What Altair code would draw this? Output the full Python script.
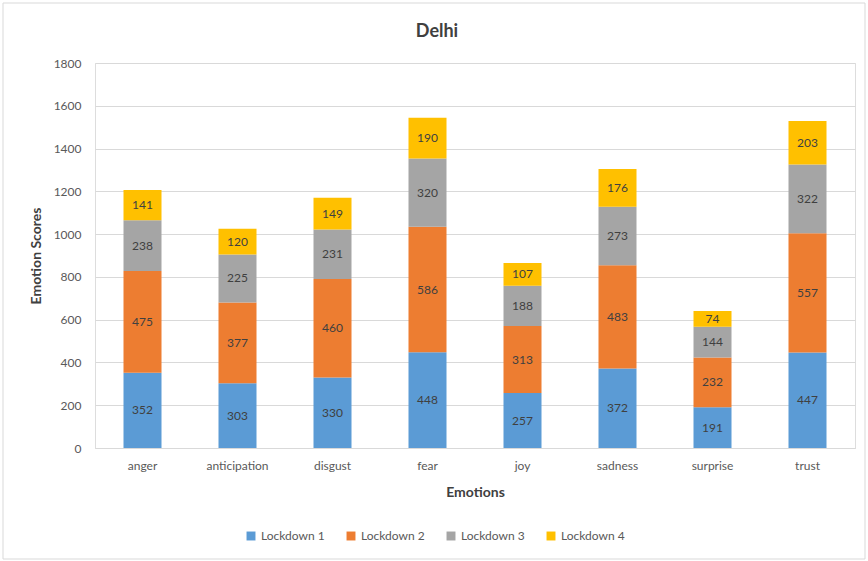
import altair as alt
import pandas as pd

emotions = ["anger", "anticipation", "disgust", "fear", "joy", "sadness", "surprise", "trust"]
series = ["Lockdown 1", "Lockdown 2", "Lockdown 3", "Lockdown 4"]
lockdown1 = [352, 303, 330, 448, 257, 372, 191, 447]
lockdown2 = [475, 377, 460, 586, 313, 483, 232, 557]
lockdown3 = [238, 225, 231, 320, 188, 273, 144, 322]
lockdown4 = [141, 120, 149, 190, 107, 176, 74, 203]
colors = ["#5B9BD5", "#ED7D31", "#A5A5A5", "#FFC000"]

values = [lockdown1, lockdown2, lockdown3, lockdown4]
rows = []
for i, s in enumerate(series):
    for e, v in zip(emotions, values[i]):
        rows.append({"emotion": e, "series": s, "order": i, "value": v})
df = pd.DataFrame(rows)

FONT = "Lato"
W, H = 760, 385

base = alt.Chart(df).transform_stack(
    stack="value", groupby=["emotion"], as_=["y0", "y1"],
    sort=[alt.SortField("order", order="ascending")]
).transform_calculate(mid="(datum.y0 + datum.y1) / 2")

xenc = alt.X(
    "emotion:N", sort=emotions,
    scale=alt.Scale(paddingInner=0.6, paddingOuter=0.3),
    axis=alt.Axis(title="Emotions", labelAngle=0, labelFontSize=12, labelColor="#595959",
                  labelPadding=12, ticks=False, domainColor="#D9D9D9", titleFontSize=14,
                  titleFontWeight="bold", titleColor="#404040", titlePadding=14, labelFont=FONT,
                  titleFont=FONT),
)

bars = base.mark_bar().encode(
    x=xenc,
    y=alt.Y("y0:Q", scale=alt.Scale(domain=[0, 1800]),
            axis=alt.Axis(title="Emotion Scores", values=list(range(0, 1801, 200)), format="d",
                          labelFontSize=12, labelColor="#595959", labelPadding=14, ticks=False,
                          domain=False, gridColor="#D9D9D9", titleFontSize=14, titleFontWeight="bold",
                          titleColor="#404040", titlePadding=10, labelFont=FONT, titleFont=FONT)),
    y2="y1:Q",
    color=alt.Color("series:N", scale=alt.Scale(domain=series, range=colors),
                    legend=alt.Legend(title=None, orient="none", direction="horizontal",
                                      legendX=150, legendY=467, symbolType="square", symbolSize=80,
                                      labelFontSize=12, labelColor="#595959", columnPadding=20,
                                      symbolStrokeWidth=0, labelFont=FONT)),
    order=alt.Order("order:Q"),
)

labels = base.mark_text(fontSize=12, color="#404040", font=FONT).encode(
    x=alt.X("emotion:N", sort=emotions),
    y=alt.Y("mid:Q"),
    text=alt.Text("value:Q"),
)

border = alt.Chart(pd.DataFrame({"a": [0]})).mark_rect(
    fill=None, stroke="#D9D9D9", strokeWidth=1, clip=False
).encode(x=alt.value(-92), x2=alt.value(W + 10), y=alt.value(-60), y2=alt.value(H + 111))

chart = alt.layer(border, bars, labels).properties(
    width=W, height=H,
    title=alt.TitleParams("Delhi", fontSize=18, fontWeight="bold", color="#404040", font=FONT,
                          offset=-38, dx=-38),
    autosize=alt.AutoSizeParams(type="none"),
    padding={"left": 95, "top": 63, "right": 13, "bottom": 113},
).configure_view(stroke=None).configure(background="white")

chart.save("out.html", embed_options={"renderer": "svg", "actions": False})
